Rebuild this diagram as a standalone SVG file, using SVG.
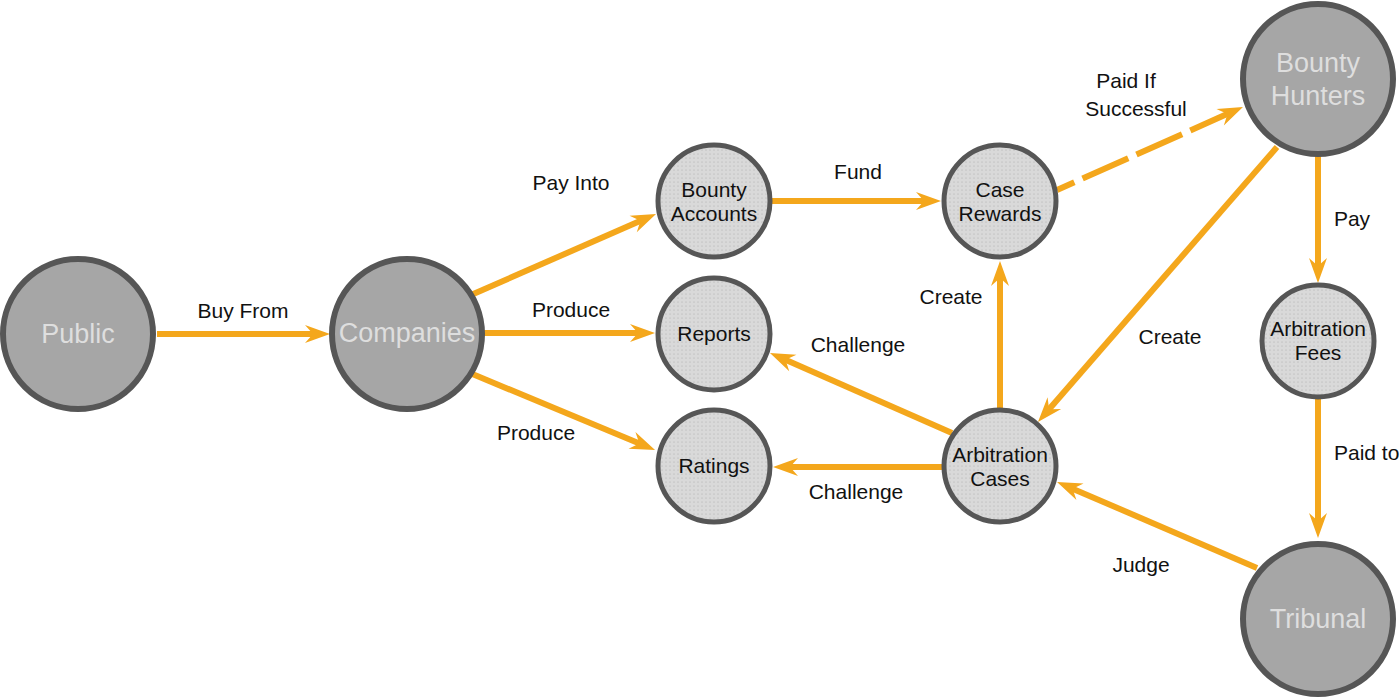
<svg xmlns="http://www.w3.org/2000/svg" width="1400" height="698" viewBox="0 0 1400 698">
<defs>
<pattern id="dots" width="4" height="4" patternUnits="userSpaceOnUse">
<rect width="4" height="4" fill="#d9d9d9"/>
<circle cx="2" cy="2" r="0.55" fill="#a9a9a9"/>
</pattern>
<marker id="arr" viewBox="-26 -10 28 20" refX="-15" refY="0" markerWidth="28" markerHeight="20" markerUnits="userSpaceOnUse" orient="auto">
<path d="M0,0 L-25,-9 L-17,0 L-25,9 Z" fill="#f4a71c"/>
</marker>
<style>
.e{stroke:#f4a71c;stroke-width:6;fill:none;marker-end:url(#arr)}
.d{stroke-dasharray:50 9;stroke-dashoffset:31}
.big{fill:#a6a6a6;stroke:#565656;stroke-width:6}
.sm{fill:url(#dots);stroke:#565656;stroke-width:5}
.bt{font-family:"Liberation Sans",Arial,sans-serif;font-size:27px;fill:#dedede;text-anchor:middle}
.st{font-family:"Liberation Sans",Arial,sans-serif;font-size:21px;fill:#111;text-anchor:middle}
.lb{font-family:"Liberation Sans",Arial,sans-serif;font-size:21px;fill:#111;text-anchor:middle}
</style>
</defs>
<rect width="1400" height="698" fill="#fff"/>
<g id="connectors">
<line class="e" x1="157" y1="334" x2="315" y2="334"/>
<line class="e" x1="471" y1="295" x2="642.3" y2="220"/>
<line class="e" x1="480" y1="333" x2="640" y2="333"/>
<line class="e" x1="470" y1="373" x2="641.2" y2="444.2"/>
<line class="e" x1="770" y1="201" x2="926" y2="201"/>
<line class="e d" x1="1057" y1="190" x2="1229.3" y2="113.1"/>
<line class="e" x1="1277" y1="147" x2="1047.8" y2="410.7"/>
<line class="e" x1="1000" y1="410" x2="1000" y2="276"/>
<line class="e" x1="952" y1="433" x2="783.7" y2="359"/>
<line class="e" x1="944" y1="467" x2="788" y2="467"/>
<line class="e" x1="1257" y1="568" x2="1070.8" y2="487.9"/>
<line class="e" x1="1318" y1="155" x2="1318" y2="268"/>
<line class="e" x1="1318" y1="397" x2="1318" y2="523"/>
<text class="lb" x="243" y="318">Buy From</text>
<text class="lb" x="571" y="190">Pay Into</text>
<text class="lb" x="571" y="317">Produce</text>
<text class="lb" x="536" y="440">Produce</text>
<text class="lb" x="858" y="179">Fund</text>
<text class="lb" x="1126" y="88">Paid If</text>
<text class="lb" x="1136" y="116">Successful</text>
<text class="lb" x="951" y="304">Create</text>
<text class="lb" x="858" y="352">Challenge</text>
<text class="lb" x="856" y="499">Challenge</text>
<text class="lb" x="1170" y="344">Create</text>
<text class="lb" x="1141" y="572">Judge</text>
<text class="lb" x="1352" y="226">Pay</text>
<text class="lb" x="1334" y="460" style="text-anchor:start">Paid to</text>
</g>
<g id="public"><circle class="big" cx="78" cy="334" r="75"/><text class="bt" x="78" y="343">Public</text></g>
<g id="companies"><circle class="big" cx="407" cy="334" r="75"/><text class="bt" x="407" y="342">Companies</text></g>
<g id="bounty-accounts"><circle class="sm" cx="714" cy="201" r="56"/><text class="st" x="714" y="197">Bounty</text><text class="st" x="714" y="221">Accounts</text></g>
<g id="reports"><circle class="sm" cx="714" cy="334" r="56"/><text class="st" x="714" y="341">Reports</text></g>
<g id="ratings"><circle class="sm" cx="714" cy="466" r="56"/><text class="st" x="714" y="473">Ratings</text></g>
<g id="case-rewards"><circle class="sm" cx="1000" cy="201" r="56"/><text class="st" x="1000" y="197">Case</text><text class="st" x="1000" y="221">Rewards</text></g>
<g id="arbitration-cases"><circle class="sm" cx="1000" cy="466" r="56"/><text class="st" x="1000" y="462">Arbitration</text><text class="st" x="1000" y="486">Cases</text></g>
<g id="bounty-hunters"><circle class="big" cx="1318" cy="79" r="75"/><text class="bt" x="1318" y="72">Bounty</text><text class="bt" x="1318" y="105">Hunters</text></g>
<g id="arbitration-fees"><circle class="sm" cx="1318" cy="341" r="56"/><text class="st" x="1318" y="336">Arbitration</text><text class="st" x="1318" y="360">Fees</text></g>
<g id="tribunal"><circle class="big" cx="1318" cy="619" r="75"/><text class="bt" x="1318" y="628">Tribunal</text></g>
</svg>
